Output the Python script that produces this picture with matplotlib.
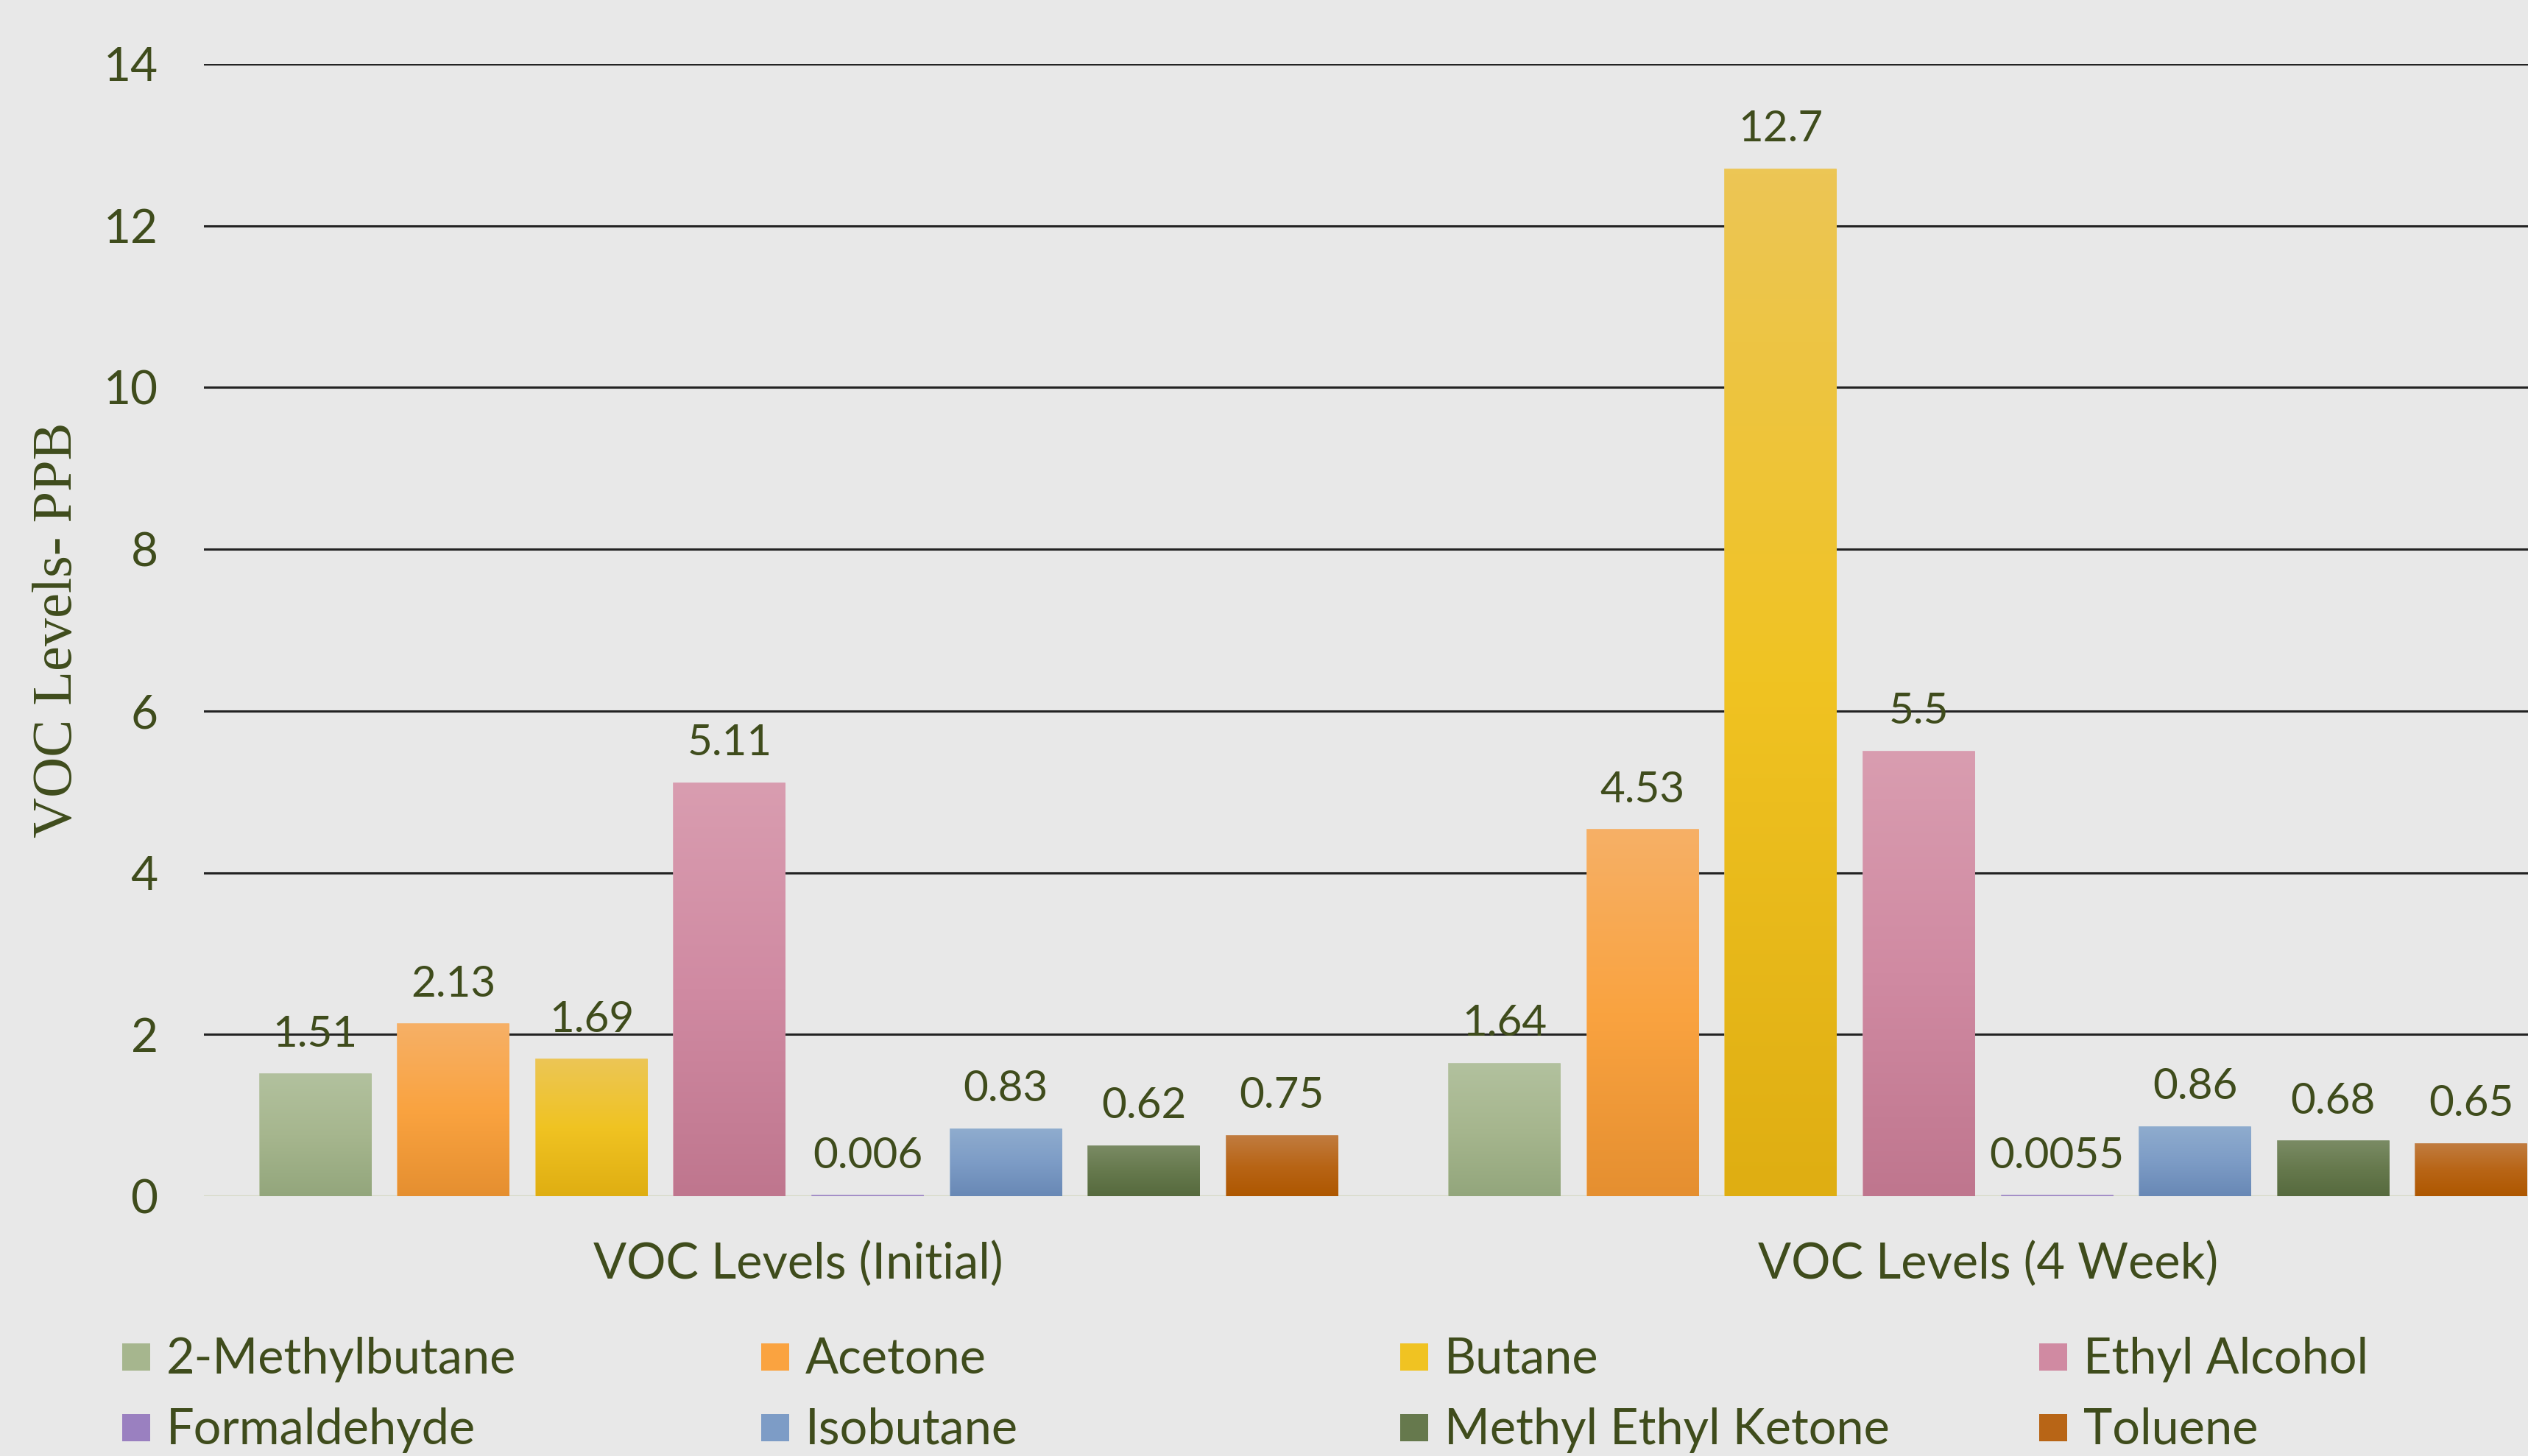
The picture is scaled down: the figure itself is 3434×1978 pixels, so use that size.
import numpy as np
import matplotlib
matplotlib.use("Agg")
import matplotlib.pyplot as plt
from matplotlib.colors import LinearSegmentedColormap
from matplotlib.patches import Rectangle
from matplotlib.transforms import blended_transform_factory

# ---- data -------------------------------------------------------------
groups = ["VOC Levels (Initial)", "VOC Levels (4 Week)"]
compounds = ["2-Methylbutane", "Acetone", "Butane", "Ethyl Alcohol",
             "Formaldehyde", "Isobutane", "Methyl Ethyl Ketone", "Toluene"]
initial = [1.51, 2.13, 1.69, 5.11, 0.006, 0.83, 0.62, 0.75]
week4 = [1.64, 4.53, 12.7, 5.5, 0.0055, 0.86, 0.68, 0.65]
label_text = [["1.51", "2.13", "1.69", "5.11", "0.006", "0.83", "0.62", "0.75"],
              ["1.64", "4.53", "12.7", "5.5", "0.0055", "0.86", "0.68", "0.65"]]
yticks = [0, 2, 4, 6, 8, 10, 12, 14]

# gradient stops per compound: top, middle, bottom
gradients = [
    ("#b2c19e", "#a6b68e", "#93a67c"),
    ("#f6b066", "#faa340", "#e58f30"),
    ("#ecc655", "#f0c322", "#dfae12"),
    ("#d99db0", "#d08aa2", "#bf768e"),
    ("#a892cc", "#9a80c0", "#8a70b0"),
    ("#8facce", "#7d9cc6", "#6888b5"),
    ("#7a8b64", "#66794d", "#566a3e"),
    ("#c17c40", "#b86516", "#ae5700"),
]

TEXT = "#3f4c1c"
BG = "#e8e8e8"
SANS = ["Lato", "DejaVu Sans"]

fig = plt.figure(figsize=(34.34, 19.78), dpi=100, facecolor=BG)
W, H = 3434, 1978
ax = fig.add_axes([277 / W, 1 - 1625 / H, 1 - 277 / W, (1625 - 87) / H])
ax.set_facecolor("none")

pitch = 0.1161
width = 0.0935
x_groups = np.arange(len(groups))
series = np.array([initial, week4])

bars_all = []
for i, name in enumerate(compounds):
    xs = x_groups + (i - 3.5) * pitch
    top, mid, bot = gradients[i]
    bars = ax.bar(xs, series[:, i], width=width, color=mid,
                  edgecolor=top, linewidth=1.2, zorder=3)
    bars_all.append((bars, i))
    cmap = LinearSegmentedColormap.from_list(name, [bot, mid, top])
    grad = np.linspace(0, 1, 256).reshape(-1, 1)
    for b in bars:
        x0, y0 = b.get_x(), b.get_y()
        w, h = b.get_width(), b.get_height()
        im = ax.imshow(grad, cmap=cmap, origin="lower", aspect="auto",
                       extent=[x0, x0 + w, y0, y0 + h], zorder=3.5,
                       interpolation="bilinear")
        im.set_clip_path(b)

# value labels
for bars, i in bars_all:
    for g, b in enumerate(bars):
        ax.annotate(label_text[g][i],
                    xy=(b.get_x() + b.get_width() / 2, b.get_height()),
                    xytext=(0, 27), textcoords="offset points",
                    ha="center", va="baseline", fontsize=42,
                    family=SANS, color=TEXT, zorder=5)

ax.set_xlim(-0.5, -0.5 + (W - 277) / 1615.5)
ax.set_ylim(0, 14)

# axes styling
for s in ax.spines.values():
    s.set_visible(False)
ax.set_yticks(yticks)
ax.set_yticklabels([str(t) for t in yticks], fontsize=46, family=SANS, color=TEXT)
ax.tick_params(axis="y", length=0, pad=45)
ax.set_xticks([])
ax.yaxis.grid(True, color="#232323", linewidth=2.2, zorder=1)
ax.set_axisbelow(True)
ax.axhline(0, color="#eef1d6", linewidth=2.0, zorder=2)

# category labels below the axis
trans = blended_transform_factory(ax.transData, fig.transFigure)
for g, lab in zip(x_groups, groups):
    ax.text(g, 1 - 1737 / H, lab, transform=trans, ha="center", va="baseline",
            fontsize=48, family=SANS, color=TEXT, clip_on=False)

# y-axis title
fig.text(78 / W, 1 - 856 / H, "VOC Levels- PPB", rotation=90, ha="center",
         va="center", fontsize=55, family=["Liberation Serif", "DejaVu Serif"],
         color=TEXT)

# legend: four columns, two rows
col_x = [166 + k * 868 for k in range(4)]
row_base = [1866, 1962]
for i, name in enumerate(compounds):
    r, c = divmod(i, 4)
    x = col_x[c]
    yb = row_base[r]
    top, mid, bot = gradients[i]
    fig.add_artist(Rectangle((x / W, 1 - (yb - 4) / H), 38 / W, 37 / H,
                             transform=fig.transFigure, facecolor=mid,
                             edgecolor="none"))
    fig.text((x + 60) / W, 1 - yb / H, name, ha="left", va="baseline",
             fontsize=48, family=SANS, color=TEXT)

fig.savefig("out.png", dpi=100, facecolor=BG)
